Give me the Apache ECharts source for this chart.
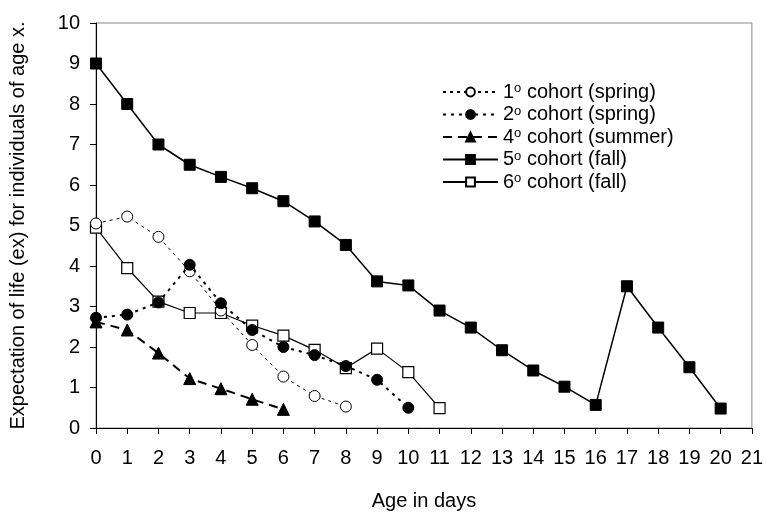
<!DOCTYPE html>
<html>
<head>
<meta charset="utf-8">
<script src="https://cdn.jsdelivr.net/npm/echarts@6/dist/echarts.min.js"></script>
<style>
  html, body { margin: 0; padding: 0; background: #fff; }
  #chart { width: 766px; height: 516px; }
</style>
</head>
<body>
<div id="chart"></div>
<script>
// ages (days) for each cohort and the life expectancy
const ages = [0, 1, 2, 3, 4, 5, 6, 7, 8, 9, 10, 11, 12, 13, 14, 15, 16, 17, 18, 19, 20];
const cohort1 = [5.05, 5.22, 4.72, 3.87, 2.9, 2.05, 1.27, 0.79, 0.53];
const cohort2 = [2.72, 2.8, 3.1, 4.03, 3.08, 2.42, 2.0, 1.8, 1.53, 1.19, 0.5];
const cohort4 = [2.62, 2.42, 1.85, 1.22, 0.97, 0.71, 0.46];
const cohort5 = [9.0, 8.0, 7.0, 6.5, 6.2, 5.92, 5.6, 5.1, 4.52, 3.62, 3.52, 2.9, 2.48, 1.92, 1.42, 1.02, 0.57, 3.5, 2.48, 1.5, 0.48];
const cohort6 = [4.95, 3.95, 3.12, 2.84, 2.84, 2.53, 2.28, 1.93, 1.48, 1.96, 1.38, 0.49];
const names = [
  "{n|1}{s|o}{n| cohort (spring)}",
  "{n|2}{s|o}{n| cohort (spring)}",
  "{n|4}{s|o}{n| cohort (summer)}",
  "{n|5}{s|o}{n| cohort (fall)}",
  "{n|6}{s|o}{n| cohort (fall)}"
];
const seriesNames = ["c1", "c2", "c4", "c5", "c6"];

function pairs(vals) {
  return vals.map(function (v, i) { return [ages[i], v]; });
}

const font = "Liberation Sans, Arial, sans-serif";
const myChart = echarts.init(document.getElementById("chart"));
const option = {
  animation: false,
  backgroundColor: "#fff",
  textStyle: { fontFamily: font, color: "#000" },
  grid: {
    left: 96,
    right: 10,
    top: 23,
    bottom: 88,
    show: true,
    borderColor: "#888",
    borderWidth: 1
  },
  legend: {
    orient: "vertical",
    left: 442,
    top: 82,
    padding: 0,
    itemWidth: 55,
    itemHeight: 11,
    itemGap: 1.5,
    data: seriesNames,
    formatter: function (name) {
      return names[seriesNames.indexOf(name)];
    },
    textStyle: {
      fontFamily: font,
      rich: {
        n: { fontSize: 20, lineHeight: 20, fontFamily: font, color: "#000" },
        s: { fontSize: 13, lineHeight: 20, fontFamily: font, color: "#000", verticalAlign: "top", padding: [0, 0, 8, 0] }
      }
    }
  },
  xAxis: {
    type: "value",
    min: 0,
    max: 21,
    interval: 1,
    name: "Age in days",
    nameLocation: "middle",
    nameGap: 63,
    nameTextStyle: { fontSize: 20, color: "#000", fontFamily: font },
    axisLine: { lineStyle: { color: "#000", width: 1 } },
    axisTick: { length: 6, lineStyle: { color: "#000" } },
    axisLabel: { fontSize: 20, color: "#000", margin: 20, fontFamily: font },
    splitLine: { show: false }
  },
  yAxis: {
    type: "value",
    min: 0,
    max: 10,
    interval: 1,
    name: "Expectation of life (ex) for individuals of age x.",
    nameLocation: "middle",
    nameGap: 68,
    nameTextStyle: { fontSize: 20, color: "#000", fontFamily: font },
    axisLine: { show: true, lineStyle: { color: "#000", width: 1 } },
    axisTick: { show: true, length: 6, lineStyle: { color: "#000" } },
    axisLabel: { fontSize: 20, color: "#000", margin: 16, fontFamily: font },
    splitLine: { show: false }
  },
  series: [
    {
      name: "c1",
      type: "line",
      data: pairs(cohort1),
      symbol: "circle",
      symbolSize: 11,
      itemStyle: { color: "#fff", borderColor: "#000", borderWidth: 1 },
      lineStyle: { color: "#000", width: 1, type: [3, 4] },
      z: 3
    },
    {
      name: "c2",
      type: "line",
      data: pairs(cohort2),
      symbol: "circle",
      symbolSize: 11,
      itemStyle: { color: "#000", borderColor: "#000", borderWidth: 1 },
      lineStyle: { color: "#000", width: 2, type: [3, 5] },
      z: 4
    },
    {
      name: "c4",
      type: "line",
      data: pairs(cohort4),
      symbol: "triangle",
      symbolSize: 12,
      itemStyle: { color: "#000", borderColor: "#000", borderWidth: 1 },
      lineStyle: { color: "#000", width: 2, type: [9, 6] },
      z: 3
    },
    {
      name: "c5",
      type: "line",
      data: pairs(cohort5),
      symbol: "rect",
      symbolSize: 11,
      itemStyle: { color: "#000", borderColor: "#000", borderWidth: 1 },
      lineStyle: { color: "#000", width: 1.5, type: "solid" },
      z: 3
    },
    {
      name: "c6",
      type: "line",
      data: pairs(cohort6),
      symbol: "rect",
      symbolSize: 11,
      itemStyle: { color: "#fff", borderColor: "#000", borderWidth: 1.2 },
      lineStyle: { color: "#000", width: 1.2, type: "solid" },
      z: 2
    }
  ]
};
myChart.setOption(option);
</script>
</body>
</html>
